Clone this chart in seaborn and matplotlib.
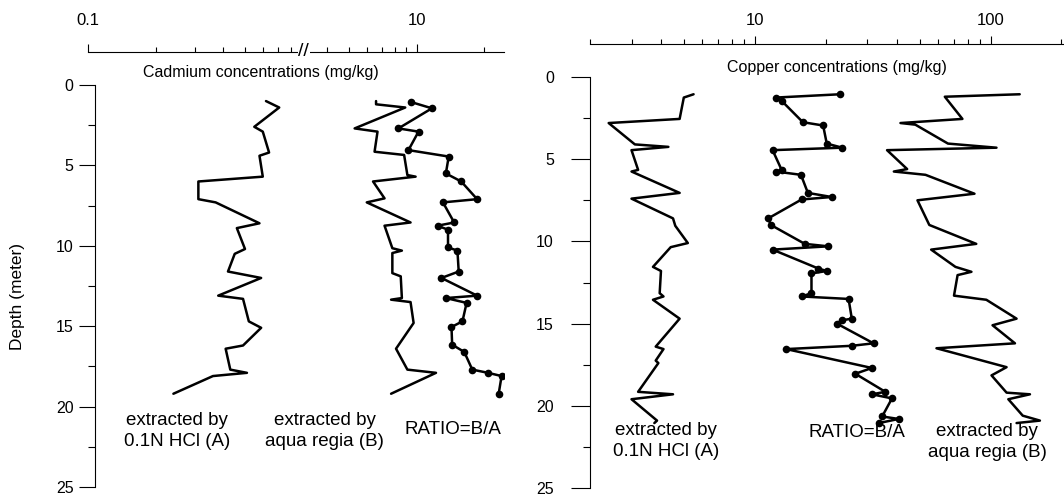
import numpy as np
import matplotlib
matplotlib.use("Agg")
import matplotlib.pyplot as plt
from matplotlib.ticker import NullFormatter
import seaborn as sns

sns.set_style("ticks")
plt.rcParams["font.family"] = ["Liberation Sans", "DejaVu Sans"]
for k in ["text.color", "axes.labelcolor", "xtick.color", "ytick.color", "axes.edgecolor"]:
    plt.rcParams[k] = "black"

# ---------------- Cadmium (mg/kg) against depth (m) ----------------
cd_hcl_depth = [1.0, 1.4, 2.6, 2.9, 4.2, 4.4, 5.7, 6.0, 7.1, 7.3, 8.6, 8.9, 10.2,
                10.5, 11.6, 12.0, 13.1, 13.3, 14.7, 15.1, 16.2, 16.4, 17.7, 17.9,
                18.1, 19.2]
cd_hcl = [0.62, 0.71, 0.55, 0.60, 0.64, 0.58, 0.60, 0.31, 0.31, 0.37, 0.58, 0.46,
          0.50, 0.45, 0.42, 0.59, 0.38, 0.49, 0.52, 0.59, 0.49, 0.41, 0.43, 0.51,
          0.36, 0.24]

cd_aqua_depth = [1.0, 1.2, 1.4, 2.7, 2.9, 4.15, 4.35, 5.6, 5.7, 6.0, 7.05, 7.3,
                 8.55, 8.75, 10.15, 10.3, 10.45, 11.7, 11.9, 13.25, 13.35, 13.5,
                 14.8, 16.4, 17.7, 17.9, 19.2]
cd_aqua = [6.6, 6.6, 8.9, 5.3, 6.7, 6.5, 8.8, 9.1, 9.9, 6.4, 7.2, 6.0, 9.4, 7.2,
           7.8, 8.6, 7.8, 7.8, 8.5, 8.6, 7.7, 9.4, 9.7, 8.1, 9.1, 12.2, 7.7]

cd_ratio_depth = [1.05, 1.45, 2.7, 2.9, 4.05, 4.45, 5.5, 6.0, 7.1, 7.3, 8.55, 8.75,
                  9.0, 10.1, 10.3, 11.6, 12.0, 13.1, 13.25, 13.55, 14.7, 15.05,
                  16.15, 16.6, 17.7, 17.9, 18.1, 19.2]
cd_ratio = [9.4, 11.7, 8.3, 10.2, 9.2, 13.9, 13.5, 15.8, 18.6, 13.1, 14.7, 12.4,
            13.8, 13.8, 15.2, 15.4, 12.9, 18.6, 13.5, 16.7, 16.0, 14.3, 14.4, 16.3,
            17.7, 20.8, 23.9, 23.2]

# ---------------- Copper (mg/kg) against depth (m) ----------------
cu_hcl_depth = [1.05, 1.25, 2.55, 2.8, 4.1, 4.25, 4.45, 5.65, 5.75, 7.05, 7.4, 8.6,
                9.05, 10.1, 10.35, 11.55, 11.8, 13.15, 13.35, 13.55, 14.7, 16.4,
                16.55, 17.25, 17.4, 19.15, 19.3, 19.6, 20.9, 21.05]
cu_hcl = [5.5, 5.0, 4.8, 2.4, 3.1, 4.3, 3.0, 3.2, 3.0, 4.8, 3.0, 4.5, 4.6, 5.2,
          4.4, 3.7, 4.0, 3.95, 4.1, 3.7, 4.8, 3.8, 4.1, 3.8, 3.9, 3.2, 4.5, 3.0,
          3.85, 3.75]

cu_ratio_depth = [1.05, 1.25, 1.45, 2.75, 2.95, 4.05, 4.3, 4.45, 5.65, 5.75, 5.95,
                  7.05, 7.3, 7.45, 8.6, 9.0, 10.15, 10.3, 10.5, 11.65, 11.8, 11.95,
                  13.15, 13.35, 13.5, 14.7, 14.8, 15.0, 16.2, 16.35, 16.55, 17.7,
                  18.05, 19.15, 19.3, 19.55, 20.65, 20.8, 21.05]
cu_ratio = [23.0, 12.3, 13.0, 16.0, 19.5, 20.2, 23.5, 11.9, 13.0, 12.3, 15.7, 16.8,
            21.2, 15.8, 11.4, 11.7, 16.3, 20.5, 11.9, 18.6, 20.2, 17.4, 17.4, 15.8,
            25.0, 25.8, 23.4, 22.3, 31.9, 25.8, 13.6, 31.4, 26.7, 35.8, 31.4, 38.2,
            34.7, 40.8, 33.6]

cu_aqua_depth = [1.05, 1.2, 2.55, 2.8, 2.9, 4.05, 4.3, 4.45, 5.6, 5.75, 5.95, 7.1,
                 7.5, 9.0, 10.15, 10.5, 11.55, 11.85, 12.05, 13.3, 13.55, 14.7,
                 15.1, 16.2, 16.5, 17.65, 18.15, 19.2, 19.3, 19.6, 20.6, 20.9, 21.05]
cu_aqua = [133, 64, 76, 41.5, 48, 66, 106, 36.4, 44.3, 38.9, 53, 85.5, 49, 55, 87,
           56, 71, 83, 72.5, 70, 96, 129, 102, 127, 59, 117, 101, 117, 147, 119,
           137, 162, 129]

# axis ticks
cd_major = [0.1, 10]
cd_minor = [0.2, 0.3, 0.4, 0.5, 0.6, 0.7, 0.8, 4, 5, 6, 7, 8, 9, 20]
cu_major = [10, 100]
cu_minor = [2, 3, 4, 5, 6, 7, 8, 9, 20, 30, 40, 50, 60, 70, 80, 90, 200]
depth_major = [0, 5, 10, 15, 20, 25]
depth_minor = [2.5, 7.5, 12.5, 17.5, 22.5]

# broken log axis for cadmium: 0.1 .. 0.9 // 3.1 upward
CUT, RESUME = 0.9, 3.1
PB = np.log10(CUT / 0.1)


def cd_forward(v):
    v = np.clip(np.asarray(v, dtype=float), 1e-3, None)
    lo = np.log10(v / 0.1)
    hi = PB + np.log10(v / RESUME)
    return np.where(v <= CUT, lo, np.where(v >= RESUME, hi, PB))


def cd_inverse(p):
    p = np.asarray(p, dtype=float)
    return np.where(p <= PB, 0.1 * 10 ** p, RESUME * 10 ** (p - PB))


fig = plt.figure(figsize=(10.64, 4.95), dpi=100)
ax1 = fig.add_axes([88 / 1064, 8 / 495, 416 / 1064, 402 / 495])
ax2 = fig.add_axes([590 / 1064, 7 / 495, 474 / 1064, 411 / 495])

ax1.set_xscale("function", functions=(cd_forward, cd_inverse))
ax1.set_xlim(0.1, 24.5)
ax2.set_xscale("log")
ax2.set_xlim(2, 205)

line_kw = dict(sort=False, estimator=None, color="black", lw=1.8)
sns.lineplot(x=cd_hcl, y=cd_hcl_depth, ax=ax1, **line_kw)
sns.lineplot(x=cd_aqua, y=cd_aqua_depth, ax=ax1, **line_kw)
sns.lineplot(x=cd_ratio, y=cd_ratio_depth, ax=ax1, marker="o", markersize=5.5,
             markeredgewidth=0, **line_kw)

sns.lineplot(x=cu_hcl, y=cu_hcl_depth, ax=ax2, **line_kw)
sns.lineplot(x=cu_ratio, y=cu_ratio_depth, ax=ax2, marker="o", markersize=5.5,
             markeredgewidth=0, **line_kw)
sns.lineplot(x=cu_aqua, y=cu_aqua_depth, ax=ax2, **line_kw)

panels = [(ax1, cd_major, cd_minor, ["0.1", "10"], 11, 11.5, 4),
          (ax2, cu_major, cu_minor, ["10", "100"], 5, 14, 12)]
for ax, major, minor, labs, xpad, ylen, ypad in panels:
    ax.set_ylim(25, 0)
    ax.set_yticks(depth_major)
    ax.set_yticks(depth_minor, minor=True)
    ax.set_xticks(major, labs)
    ax.set_xticks(minor, minor=True)
    ax.xaxis.set_minor_formatter(NullFormatter())
    ax.xaxis.set_ticks_position("top")
    ax.spines["right"].set_visible(False)
    ax.spines["bottom"].set_visible(False)
    ax.spines["top"].set_position(("outward", 24))
    for s in ["top", "left"]:
        ax.spines[s].set_linewidth(0.8)
    ax.tick_params(axis="x", which="major", direction="out", length=6, width=0.8,
                   pad=xpad, labelsize=12)
    ax.tick_params(axis="x", which="minor", direction="out", length=3.5, width=0.8)
    ax.tick_params(axis="y", which="major", direction="out", length=ylen, width=0.8,
                   pad=ypad, labelsize=11.5)
    ax.tick_params(axis="y", which="minor", direction="out", length=5, width=0.8)
    ax.set_xlabel("")
    ax.set_ylabel("")
    ax.patch.set_alpha(0)

ax1.spines["left"].set_position(("outward", -5))

# break marks on the cadmium axis
ax1.annotate("//", xy=(CUT, 1), xycoords=("data", "axes fraction"),
             xytext=(1, 24), textcoords="offset points", ha="center", va="center",
             fontsize=14, annotation_clip=False,
             bbox=dict(fc="white", ec="none", pad=0.4))

ax1.text(0.416, 1.030, "Cadmium concentrations (mg/kg)", transform=ax1.transAxes,
         ha="center", va="center", fontsize=11.5)
ax2.text(0.521, 1.022, "Copper concentrations (mg/kg)", transform=ax2.transAxes,
         ha="center", va="center", fontsize=11.5)

lab_kw = dict(ha="center", va="center", fontsize=13.5, linespacing=1.3)
ax1.text(0.249, 21.5, "extracted by\n0.1N HCl (A)", **lab_kw)
ax1.text(3.9, 21.5, "extracted by\naqua regia (B)", **lab_kw)
ax1.text(14.5, 21.45, "RATIO=B/A", **lab_kw)
ax2.text(4.2, 22.15, "extracted by\n0.1N HCl (A)", **lab_kw)
ax2.text(27.0, 21.6, "RATIO=B/A", **lab_kw)
ax2.text(97.0, 22.2, "extracted by\naqua regia (B)", **lab_kw)

fig.text(18 / 1064, 1 - 297 / 495, "Depth (meter)", rotation=90, ha="center",
         va="center", fontsize=12.5)

fig.savefig("out.png", dpi=100)
